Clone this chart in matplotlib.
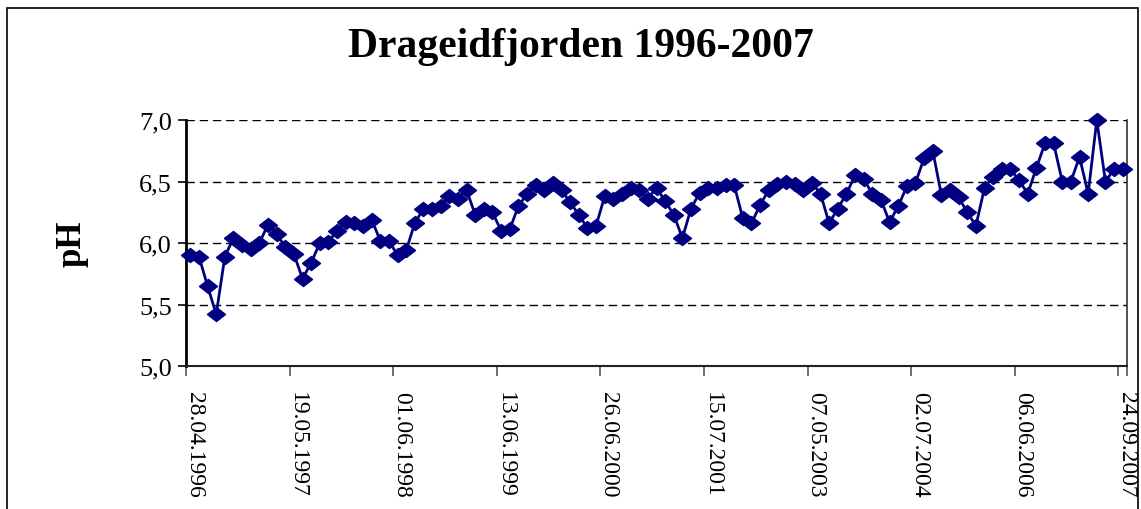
import matplotlib
matplotlib.use("Agg")
import matplotlib.pyplot as plt
from matplotlib.patches import Rectangle
from matplotlib.ticker import FixedLocator, FuncFormatter

title = "Drageidfjorden 1996-2007"
ylabel = "pH"

ph_values = [
    5.90, 5.89, 5.65, 5.42, 5.89, 6.04, 5.98, 5.95, 6.00, 6.15,
    6.07, 5.97, 5.91, 5.71, 5.84, 6.00, 6.01, 6.10, 6.17, 6.16,
    6.14, 6.19, 6.02, 6.02, 5.90, 5.94, 6.16, 6.28, 6.28, 6.30,
    6.38, 6.36, 6.43, 6.23, 6.28, 6.25, 6.10, 6.11, 6.30, 6.40,
    6.47, 6.43, 6.49, 6.43, 6.33, 6.23, 6.12, 6.14, 6.38, 6.36,
    6.40, 6.45, 6.43, 6.36, 6.45, 6.34, 6.23, 6.04, 6.28, 6.41,
    6.45, 6.45, 6.47, 6.47, 6.20, 6.16, 6.31, 6.43, 6.48, 6.50,
    6.48, 6.43, 6.49, 6.40, 6.16, 6.28, 6.40, 6.55, 6.52, 6.40,
    6.35, 6.17, 6.30, 6.46, 6.49, 6.69, 6.75, 6.39, 6.43, 6.37,
    6.25, 6.14, 6.45, 6.54, 6.60, 6.60, 6.51, 6.40, 6.61, 6.81,
    6.81, 6.50, 6.50, 6.70, 6.40, 7.00, 6.50, 6.60, 6.60,
]

tick_label_index = [0, 12, 24, 36, 48, 60, 72, 84, 96, 108]
tick_labels = ["28.04.1996", "19.05.1997", "01.06.1998", "13.06.1999",
               "26.06.2000", "15.07.2001", "07.05.2003", "02.07.2004",
               "06.06.2006", "24.09.2007"]
y_ticks = [5.0, 5.5, 6.0, 6.5, 7.0]

W, H = 1141, 510
fig = plt.figure(figsize=(W / 100, H / 100), dpi=100)
fig.patch.set_facecolor("white")

# chart area border
fig.patches.append(Rectangle((7 / W, -0.05), (1138 - 7) / W, 1.05 - 9 / H,
                             transform=fig.transFigure, fill=False,
                             edgecolor="black", linewidth=1.2))

ax = fig.add_axes([186 / W, 1 - 367 / H, (1127 - 186) / W, (367 - 121) / H])

n = len(ph_values)
x = list(range(n))
diamond = [(-1, 0), (0, 0.78), (1, 0), (0, -0.78), (-1, 0)]
ax.plot(x, ph_values, color="#000080", linewidth=2.0, marker=diamond,
        markersize=13, markerfacecolor="#000080", markeredgecolor="#000080",
        zorder=3, clip_on=False)

ax.set_xlim(-0.5, n - 0.5)
ax.set_ylim(5.0, 7.0)

ax.set_yticks(y_ticks)
ax.yaxis.set_major_formatter(FuncFormatter(lambda v, p: f"{v:.1f}".replace(".", ",")))
for v in y_ticks[1:]:
    ax.axhline(v, color="black", linewidth=1.0, linestyle=(0, (6, 3.5)), zorder=1)

ax.xaxis.set_major_locator(FixedLocator([i + 0.45 for i in tick_label_index]))
ax.set_xticklabels(tick_labels)
ax.xaxis.set_minor_locator(FixedLocator([i - 0.5 for i in tick_label_index] + [n - 0.5]))
ax.tick_params(axis="x", which="major", length=0, pad=18)
ax.tick_params(axis="x", which="minor", length=7, width=1.2, color="#555555")
ax.tick_params(axis="y", length=6, width=1.2, color="black", pad=4)

for lab in ax.get_xticklabels():
    lab.set_rotation(-90)
    lab.set_fontfamily("Liberation Serif")
    lab.set_fontsize(17)
    lab.set_va("top")
    lab.set_ha("center")
for lab in ax.get_yticklabels():
    lab.set_fontfamily("Liberation Serif")
    lab.set_fontsize(19)

ax.spines["top"].set_visible(False)
ax.spines["left"].set_linewidth(2.0)
ax.spines["left"].set_color("black")
ax.spines["bottom"].set_linewidth(1.5)
ax.spines["bottom"].set_color("#222222")
ax.spines["right"].set_linewidth(1.2)
ax.spines["right"].set_color("#333333")

fig.text(581 / W, 1 - 47 / H, title, ha="center", va="center",
         fontfamily="Liberation Serif", fontweight="bold", fontsize=30)
fig.text(72 / W, 1 - 244 / H, ylabel, ha="center", va="center", rotation=90,
         fontfamily="Liberation Serif", fontweight="bold", fontsize=25)

fig.savefig("out.png", dpi=100, facecolor="white")
